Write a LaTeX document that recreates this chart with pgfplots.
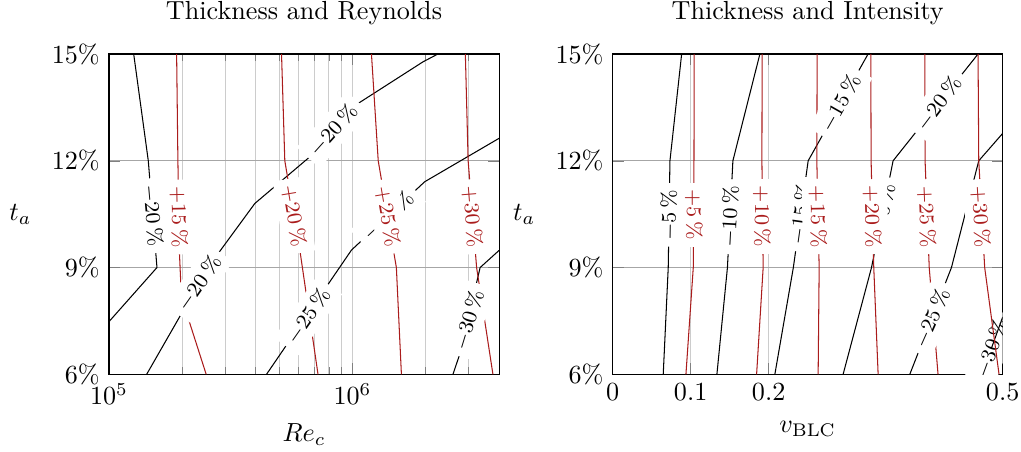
\documentclass[border=0pt]{standalone}
\usepackage{pgfplots}
\pgfplotsset{compat=1.18}
\definecolor{contred}{RGB}{170,28,28}

\pgfplotsset{
  contourpanel/.style={
    scale only axis,
    width=149.14pt, height=122.49pt,
    anchor=south west,
    ymin=6, ymax=15,
    ytick={6,9,12,15},
    yticklabels={$6\%$,$9\%$,$12\%$,$15\%$},
    ylabel={$t_a$},
    ylabel style={rotate=-90, at={(axis description cs:-0.227,0.5)}, anchor=center},
    title style={yshift=1.5pt},
    x grid style={black!20},
    y grid style={black!35},
  },
  neg/.style={black, line width=0.4pt, mark=none},
  pos/.style={contred, line width=0.4pt, mark=none},
}
\tikzset{
  lbl/.style={fill=white, inner sep=2.5pt, font=\footnotesize, text=black},
  rlbl/.style={lbl, text=contred},
}

\begin{document}
\begin{tikzpicture}

% ---------------- thickness vs. Reynolds number ----------------
\begin{axis}[contourpanel, at={(0pt,0pt)},
  xmode=log, xmin=1e5, xmax=4e6,
  xtick={1e5,1e6},
  minor xtick={2e5,3e5,4e5,5e5,6e5,7e5,8e5,9e5,2e6,3e6},
  grid=both,
  xlabel={$Re_c$},
  xlabel style={at={(axis description cs:0.5,-0.210)}, anchor=base},
  title={Thickness and Reynolds}]

% negative contours
\addplot[neg] coordinates {(1.263e5,15) (1.45e5,12) (1.574e5,9) (1e5,7.48)};
\addplot[neg] coordinates {(1.428e5,6) (2.548e5,9) (3.972e5,10.80) (6.68e5,12.11) (1.006e6,13.52) (1.949e6,14.78) (2.245e6,15)};
\addplot[neg] coordinates {(4.437e5,6) (9.906e5,9.49) (1.98e6,11.41) (4e6,12.63)};
\addplot[neg] coordinates {(2.587e6,6) (2.78e6,6.63) (3.345e6,9) (4e6,9.48)};

% positive contours
\addplot[pos] coordinates {(1.896e5,15) (1.919e5,12) (1.947e5,9.41) (1.984e5,8.17) (2.507e5,6)};
\addplot[pos] coordinates {(5.113e5,15) (5.274e5,12) (6.08e5,9.49) (7.22e5,6)};
\addplot[pos] coordinates {(1.197e6,15) (1.276e6,12) (1.515e6,9) (1.589e6,6)};
\addplot[pos] coordinates {(2.909e6,15) (2.987e6,12) (3.236e6,9) (3.776e6,6)};

% contour labels
\node[lbl, rotate=-85] at (axis cs:1.512e5,10.46) {$-20\,\%$};
\node[lbl, rotate=55]  at (axis cs:2.34e5,8.56)   {$-20\,\%$};
\node[lbl, rotate=48]  at (axis cs:8.33e5,12.87)  {$-20\,\%$};
\node[lbl, rotate=55]  at (axis cs:6.57e5,7.64)   {$-25\,\%$};
\node[lbl, rotate=43]  at (axis cs:1.40e6,10.45)  {$-25\,\%$};
\node[lbl, rotate=73]  at (axis cs:3.0e6,7.53)    {$-30\,\%$};
\node[rlbl, rotate=-89]   at (axis cs:1.938e5,10.42) {$+15\,\%$};
\node[rlbl, rotate=-80.5] at (axis cs:5.76e5,10.45)  {$+20\,\%$};
\node[rlbl, rotate=-80.4] at (axis cs:1.397e6,10.43) {$+25\,\%$};
\node[rlbl, rotate=-85.5] at (axis cs:3.107e6,10.43) {$+30\,\%$};
\end{axis}

% ---------------- thickness vs. intensity ----------------
\begin{axis}[contourpanel, at={(192.62pt,0pt)},
  xmin=0, xmax=0.5,
  xtick={0,0.1,0.2,0.5},
  xticklabels={$0$,$0.1$,$0.2$,$0.5$},
  grid=major,
  xlabel={$v_{\mathrm{BLC}}$},
  xlabel style={at={(axis description cs:0.5,-0.182)}, anchor=base},
  title={Thickness and Intensity}]

% negative contours
\addplot[neg] coordinates {(0.0884,15) (0.0734,12) (0.0712,9) (0.0648,6)};
\addplot[neg] coordinates {(0.1887,15) (0.1541,12) (0.1471,9) (0.1336,6)};
\addplot[neg] coordinates {(0.3274,15) (0.2506,12) (0.2316,9) (0.2079,6)};
\addplot[neg] coordinates {(0.4684,15) (0.3595,12) (0.3318,9) (0.2954,6)};
\addplot[neg] coordinates {(0.5,12.77) (0.4693,12) (0.4343,9) (0.3809,6)};
% the -30 % contour only touches the corner; its label is clipped with the plot
\addplot[neg] coordinates {(0.4735,6) (0.4855,6.73)} node[lbl, rotate=70] {$-30\,\%$};
\addplot[neg] coordinates {(0.4855,6.73) (0.5,7.61)};

% positive contours
\addplot[pos] coordinates {(0.1045,15) (0.1042,12) (0.1033,9) (0.0939,6)};
\addplot[pos] coordinates {(0.1916,15) (0.1913,12) (0.1929,9) (0.1845,6)};
\addplot[pos] coordinates {(0.2621,15) (0.2617,12) (0.2647,9) (0.2634,6)};
\addplot[pos] coordinates {(0.3309,15) (0.3313,12) (0.3347,9) (0.3403,6)};
\addplot[pos] coordinates {(0.4001,15) (0.4005,12) (0.4058,9) (0.4171,6)};
\addplot[pos] coordinates {(0.4684,15) (0.4693,12) (0.4769,9) (0.4953,6)};

% contour labels
\node[lbl, rotate=89]   at (axis cs:0.0723,10.48) {$-5\,\%$};
\node[lbl, rotate=87]   at (axis cs:0.1504,10.43) {$-10\,\%$};
\node[lbl, rotate=60.5] at (axis cs:0.2921,13.62) {$-15\,\%$};
\node[lbl, rotate=82]   at (axis cs:0.2410,10.50) {$-15\,\%$};
\node[lbl, rotate=53]   at (axis cs:0.4178,13.61) {$-20\,\%$};
\node[lbl, rotate=78.6] at (axis cs:0.3455,10.50) {$-20\,\%$};
\node[lbl, rotate=66]   at (axis cs:0.4089,7.58)  {$-25\,\%$};
\node[rlbl, rotate=-90]   at (axis cs:0.1040,10.48) {$+5\,\%$};
\node[rlbl, rotate=-90]   at (axis cs:0.1913,10.43) {$+10\,\%$};
\node[rlbl, rotate=-89]   at (axis cs:0.2630,10.43) {$+15\,\%$};
\node[rlbl, rotate=-88.5] at (axis cs:0.3328,10.43) {$+20\,\%$};
\node[rlbl, rotate=-87.8] at (axis cs:0.4026,10.43) {$+25\,\%$};
\node[rlbl, rotate=-86.8] at (axis cs:0.4718,10.43) {$+30\,\%$};
\end{axis}

\pgfresetboundingbox
\path[use as bounding box] (-41.68pt,-29.71pt) rectangle (348.76pt,143.14pt);
\end{tikzpicture}
\end{document}
